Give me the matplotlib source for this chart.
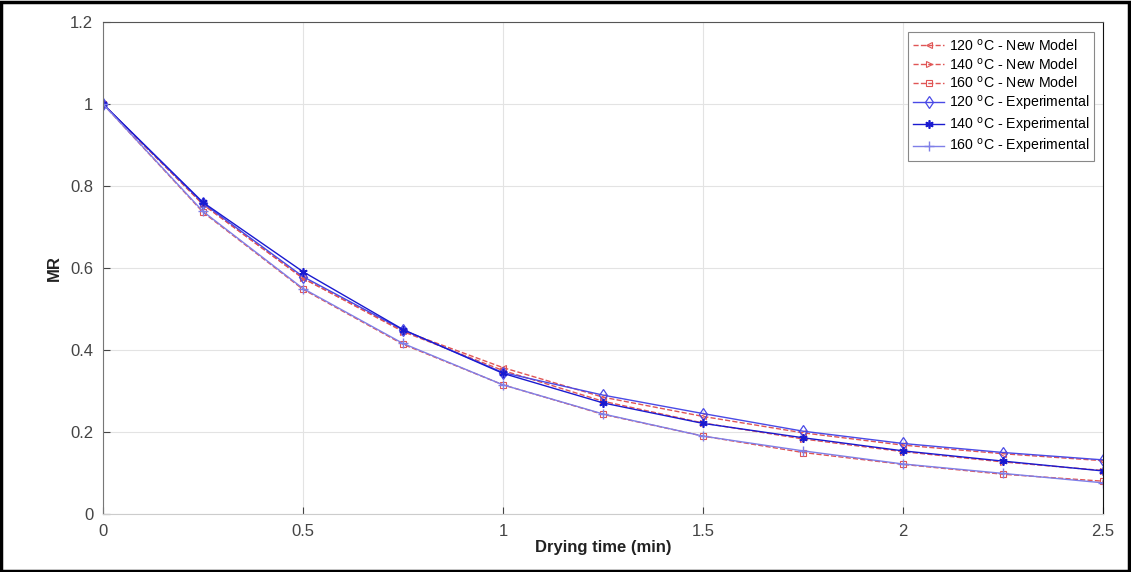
import numpy as np
import matplotlib.pyplot as plt
import matplotlib.patches as patches

plt.rcParams['font.family'] = ['Liberation Sans', 'DejaVu Sans']

# drying time (min)
t = [0, 0.25, 0.5, 0.75, 1.0, 1.25, 1.5, 1.75, 2.0, 2.25, 2.5]

# new model
model_120 = [1, 0.755, 0.575, 0.447, 0.357, 0.285, 0.238, 0.198, 0.168, 0.147, 0.130]
model_140 = [1, 0.755, 0.575, 0.445, 0.350, 0.275, 0.222, 0.183, 0.152, 0.127, 0.106]
model_160 = [1, 0.736, 0.548, 0.414, 0.315, 0.243, 0.190, 0.150, 0.121, 0.097, 0.080]

# experimental
exp_120 = [1, 0.758, 0.579, 0.449, 0.345, 0.290, 0.245, 0.202, 0.172, 0.150, 0.132]
exp_140 = [1, 0.760, 0.591, 0.450, 0.343, 0.271, 0.221, 0.186, 0.154, 0.129, 0.105]
exp_160 = [1, 0.738, 0.550, 0.416, 0.315, 0.244, 0.190, 0.154, 0.122, 0.099, 0.076]

W, H = 1131, 572
fig = plt.figure(figsize=(W / 100, H / 100), dpi=100)
ax = fig.add_axes([103 / W, 1 - 514 / H, 1000 / W, 492 / H])

red = '#e05555'
ax.plot(t, model_120, '--', color=red, marker='<', mfc='none', ms=5, mew=0.8, lw=1,
        label='120 $^{\\mathrm{o}}$C - New Model')
ax.plot(t, model_140, '--', color=red, marker='>', mfc='none', ms=5, mew=0.8, lw=1,
        label='140 $^{\\mathrm{o}}$C - New Model')
ax.plot(t, model_160, '--', color=red, marker='s', mfc='none', ms=4.5, mew=0.8, lw=1,
        label='160 $^{\\mathrm{o}}$C - New Model')
ax.plot(t, exp_120, '-', color='#4a4ae6', marker='d', mfc='none', ms=6, mew=0.9, lw=1,
        label='120 $^{\\mathrm{o}}$C - Experimental')
ax.plot(t, exp_140, '-', color='#1a1ad0', marker=(6, 2, 0), ms=6, mew=1.2, lw=1,
        label='140 $^{\\mathrm{o}}$C - Experimental')
ax.plot(t, exp_160, '-', color='#7f7fe8', marker='+', ms=7, mew=1, lw=1,
        label='160 $^{\\mathrm{o}}$C - Experimental')

ax.set_xlim(0, 2.5)
ax.set_ylim(0, 1.2)
ax.set_xticks([0, 0.5, 1, 1.5, 2, 2.5])
ax.set_xticklabels(['0', '0.5', '1', '1.5', '2', '2.5'])
ax.set_yticks([0, 0.2, 0.4, 0.6, 0.8, 1, 1.2])
ax.set_yticklabels(['0', '0.2', '0.4', '0.6', '0.8', '1', '1.2'])
ax.grid(True, color='#e3e3e3', lw=0.8)
ax.set_axisbelow(True)
ax.tick_params(direction='in', length=5, labelsize=12, colors='#444444',
               pad=7, top=False, right=False)

ax.spines['left'].set_color('#777777')
ax.spines['bottom'].set_color('#cccccc')
ax.spines['top'].set_color('#555555')
ax.spines['right'].set_color('#111111')

ax.set_xlabel('Drying time (min)', fontsize=12, fontweight='bold', color='#222222', labelpad=1)
ax.set_ylabel('MR', fontsize=12, fontweight='bold', color='#222222', labelpad=6)

leg = ax.legend(loc='upper right', bbox_to_anchor=(0.991, 0.979), borderaxespad=0,
                fontsize=10.2, fancybox=False, framealpha=1, edgecolor='#888888',
                handlelength=2.2, borderpad=0.35, labelspacing=0.2, handletextpad=0.3)
leg.get_frame().set_linewidth(0.8)

# outer border
fig.patches.append(patches.Rectangle((0.001, 0.002), 0.997, 0.995, transform=fig.transFigure,
                                     fill=False, edgecolor='black', lw=2.5))

fig.savefig('out.png', dpi=100)
